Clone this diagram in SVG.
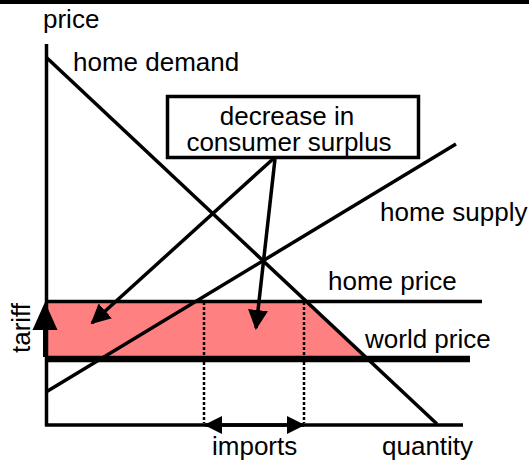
<svg xmlns="http://www.w3.org/2000/svg" width="529" height="462" viewBox="0 0 529 462">
<style>
text{font-family:"Liberation Sans",Arial,sans-serif;font-size:26px;fill:#000}
.ln{stroke:#000;fill:none;stroke-width:3.5}
.dot{stroke:#000;fill:none;stroke-width:2.5;stroke-dasharray:3 2}
</style>
<defs>
<marker id="ah" markerWidth="20" markerHeight="20" viewBox="0 0 20 20" refX="18" refY="10" orient="auto" markerUnits="userSpaceOnUse">
<path d="M0,0 L20,10 L0,20 Z" fill="#000"/>
</marker>
<marker id="ahs" markerWidth="18" markerHeight="18" viewBox="0 0 18 18" refX="17" refY="9" orient="auto-start-reverse" markerUnits="userSpaceOnUse">
<path d="M0,0 L18,9 L0,18 Z" fill="#000"/>
</marker>
</defs>
<rect x="0" y="0" width="529" height="462" fill="#fff"/>
<rect x="0" y="0" width="529" height="4" fill="#000"/>
<g id="surplus-area">
<polygon points="47,301 306,301 365,357 47,357" fill="#ff8080"/>
</g>
<g id="axes">
<line class="ln" x1="46.5" y1="44" x2="46.5" y2="426"/>
<line class="ln" x1="45" y1="425" x2="463" y2="425"/>
<text x="43" y="28">price</text>
<text x="382" y="455">quantity</text>
</g>
<g id="home-price">
<line class="ln" stroke-width="3" x1="45" y1="301.5" x2="482" y2="301.5"/>
<text x="328" y="290">home price</text>
</g>
<g id="world-price">
<line stroke="#000" stroke-width="6.5" x1="45" y1="359" x2="470" y2="359"/>
<text x="365" y="348">world price</text>
</g>
<g id="home-demand">
<line class="ln" x1="47" y1="58" x2="437" y2="424"/>
<text x="73" y="71">home demand</text>
</g>
<g id="home-supply">
<line class="ln" stroke-width="3" x1="46" y1="392" x2="456" y2="144"/>
<text x="380" y="221">home supply</text>
</g>
<g id="tariff">
<line stroke="#000" stroke-width="4" x1="45" y1="357" x2="45" y2="328"/>
<polygon points="45,302 57.5,330 32.5,330" fill="#000"/>
<text transform="translate(30,328) rotate(-90)" text-anchor="middle">tariff</text>
</g>
<g id="imports">
<line class="dot" x1="204" y1="302" x2="204" y2="423"/>
<line class="dot" x1="304" y1="302" x2="304" y2="423"/>
<text x="212" y="455">imports</text>
</g>
<g id="callout">
<rect x="167.5" y="96.5" width="251" height="61" fill="#fff" stroke="#000" stroke-width="3.5"/>
<text x="287" y="125" text-anchor="middle">decrease in</text>
<text x="289" y="151" text-anchor="middle">consumer surplus</text>
</g>
<g id="connectors">
<line class="ln" x1="273" y1="159" x2="92" y2="323" marker-end="url(#ah)"/>
<line class="ln" x1="275" y1="159" x2="256" y2="328" marker-end="url(#ah)"/>
<line class="ln" x1="205" y1="425" x2="304" y2="425" marker-start="url(#ahs)" marker-end="url(#ahs)"/>
</g>
</svg>
